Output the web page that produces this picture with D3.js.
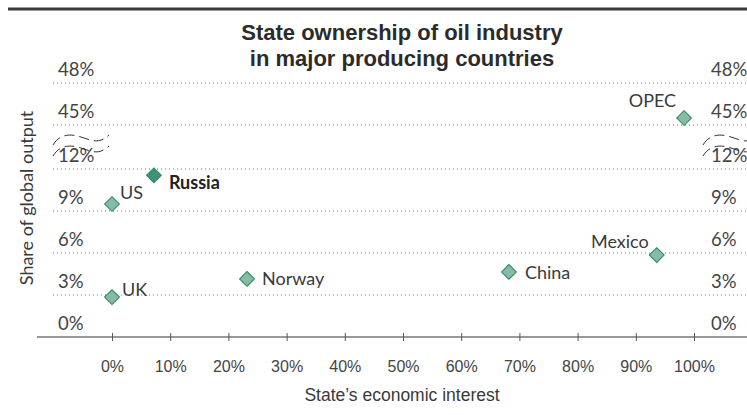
<!DOCTYPE html>
<html><head><meta charset="utf-8">
<script src="https://cdn.jsdelivr.net/npm/d3@7"></script>
<style>
body{margin:0;background:#fff;}
svg{display:block;}
</style></head>
<body>
<svg id="chart" width="747" height="415"></svg>
<script>
// ---- data ----
const countries = ["US","UK","Russia","Norway","China","Mexico","OPEC"];
const stateInterest = [0, 0, 7.2, 23.2, 68.2, 93.6, 98.3];   // % (x)
const globalShare   = [9.5, 2.85, 11.55, 4.15, 4.65, 5.85, 45.5]; // % (y)
const xTicks = [0,10,20,30,40,50,60,70,80,90,100];
const yTicks = [0,3,6,9,12,45,48];
const titleLines = ["State ownership of oil industry","in major producing countries"];
const xTitle = "State’s economic interest";
const yTitle = "Share of global output";

// label placement (style only)
const labelPlace = {
  US:{dx:8,dy:-11,anchor:"start"}, UK:{dx:10,dy:-7,anchor:"start"},
  Russia:{dx:15,dy:7,anchor:"start",bold:true}, Norway:{dx:15,dy:0,anchor:"start"},
  China:{dx:16,dy:1,anchor:"start"}, Mexico:{dx:-8,dy:-13,anchor:"end"},
  OPEC:{dx:-8,dy:-17,anchor:"end"}
};

const svg = d3.select("#chart");
const W = 747;
const x = d3.scaleLinear().domain([0,100]).range([112,694]);
// broken y axis: 0-12 then 45-48
const y = d3.scaleLinear().domain([0,12,45,48]).range([337,169,125,83]);

const textCol = "#3a3a3a";
const labelFont = "Lato, 'Open Sans', sans-serif";
const narrowFont = "'Liberation Sans Narrow', 'Liberation Sans', sans-serif";

// top rule
svg.append("line").attr("x1",8).attr("x2",W).attr("y1",9).attr("y2",9)
  .attr("stroke","#3a3a3a").attr("stroke-width",3);

// title
svg.append("text").attr("x",402).attr("y",40).attr("text-anchor","middle")
  .attr("font-family",narrowFont).attr("font-weight","bold").attr("font-size",22)
  .attr("fill","#2b2b2b")
  .selectAll("tspan").data(titleLines).join("tspan")
  .attr("x",402).attr("dy",(d,i)=>i?26:0).text(d=>d);

// gridlines
const grid = svg.append("g");
grid.selectAll("line").data(yTicks.filter(d=>d>0)).join("line")
  .attr("x1",53).attr("x2",W).attr("y1",d=>y(d)).attr("y2",d=>y(d))
  .attr("stroke","#777").attr("stroke-width",1).attr("stroke-dasharray","1,3");

// y tick labels left & right
[58,711].forEach(px=>{
  svg.append("g").selectAll("text").data(yTicks).join("text")
    .attr("x",px).attr("y",d=>y(d)-7)
    .attr("font-family",labelFont).attr("font-size",18.5).attr("fill","#444")
    .text(d=>d+"%");
});

// axis break symbols
const breakG = svg.append("g").attr("fill","none").attr("stroke","#333")
  .attr("stroke-width",1).attr("stroke-dasharray","10,5");
const mid = (y(12)+y(45))/2;
[53,703].forEach(ox=>{
  [-10,1].forEach(off=>{
    const b = mid+off;
    breakG.append("path")
      .attr("d",`M${ox},${b+8} C${ox+6},${b-2} ${ox+16},${b-4} ${ox+28},${b} S${ox+46},${b+7} ${ox+56},${b-2}`);
  });
});

// x axis
svg.append("line").attr("x1",37).attr("x2",W).attr("y1",y(0)).attr("y2",y(0))
  .attr("stroke","#777").attr("stroke-width",1.6);
const xa = svg.append("g").attr("transform",`translate(0,${y(0)})`)
  .call(d3.axisBottom(x).tickValues(xTicks).tickFormat(d=>d+"%").tickSize(4).tickPadding(20));
xa.select(".domain").remove();
xa.selectAll(".tick line").attr("y1",-4).attr("y2",4).attr("stroke","#555");
xa.selectAll(".tick text").attr("font-family",narrowFont).attr("font-size",16)
  .attr("fill","#444");

// axis titles
svg.append("text").attr("x",402).attr("y",401).attr("text-anchor","middle")
  .attr("font-family",narrowFont).attr("font-size",17.5).attr("fill",textCol).text(xTitle);
svg.append("text").attr("transform",`translate(33,${(y(0)+y(48))/2 - 12}) rotate(-90)`)
  .attr("text-anchor","middle").attr("font-family",labelFont).attr("font-size",18)
  .attr("fill",textCol).text(yTitle);

// points
const pts = countries.map((c,i)=>({c, xv:stateInterest[i], yv:globalShare[i]}));
const sym = d3.symbol().type(d3.symbolSquare).size(110);
svg.append("g").selectAll("path").data(pts).join("path")
  .attr("d",sym)
  .attr("transform",d=>`translate(${x(d.xv)},${y(d.yv)}) rotate(45)`)
  .attr("fill",d=>d.c==="Russia"?"#3f9373":"#86bca4")
  .attr("stroke","#2a8463").attr("stroke-width",1);

svg.append("g").selectAll("text").data(pts).join("text")
  .attr("x",d=>x(d.xv)+labelPlace[d.c].dx)
  .attr("y",d=>y(d.yv)+labelPlace[d.c].dy)
  .attr("dy","0.35em")
  .attr("text-anchor",d=>labelPlace[d.c].anchor)
  .attr("font-family",labelFont).attr("font-size",18)
  .attr("font-weight",d=>labelPlace[d.c].bold?"bold":"normal")
  .attr("fill",d=>labelPlace[d.c].bold?"#222":textCol)
  .text(d=>d.c);
</script>
</body></html>
